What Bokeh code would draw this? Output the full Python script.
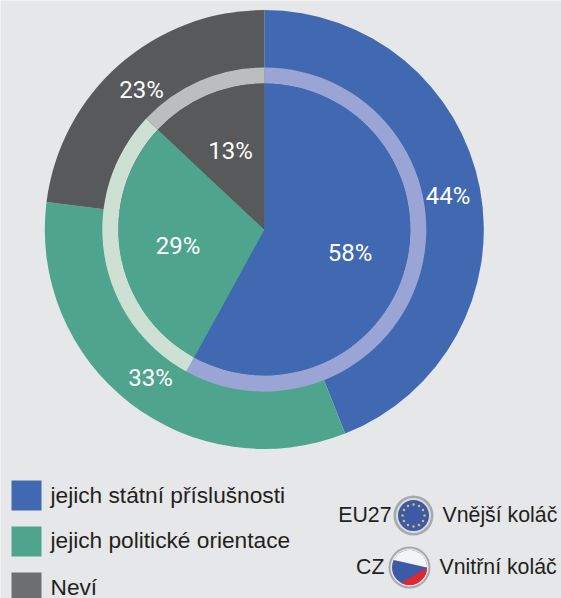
import numpy as np
from bokeh.plotting import figure
from bokeh.models import Range1d
from bokeh.core.properties import value
from bokeh.embed import file_html
from bokeh.resources import INLINE

categories = ["jejich státní příslušnosti", "jejich politické orientace", "Neví"]
outer_values = [44, 33, 23]   # EU27
inner_values = [58, 29, 13]   # CZ
colors = ["#4169b2", "#4fa48e", "#58595b"]
ring_colors = ["#9aa5d6", "#cde0d3", "#bcbdbf"]
legend_colors = ["#4169b2", "#4fa48e", "#6d6e70"]
BG = "#e6e7e8"
W, H = 561, 598

def Y(py):
    return H - py

p = figure(width=W, height=H, output_backend="svg", toolbar_location=None,
           x_range=Range1d(0, W), y_range=Range1d(0, H),
           background_fill_color=BG, border_fill_color=BG, outline_line_color=None,
           min_border=0)
p.axis.visible = False
p.grid.visible = False

CX, CY = 263.8, Y(229)
R_OUT, R_RING, R_IN = 219.5, 162, 146

def angles(vals):
    c = np.cumsum([0] + list(vals)) / sum(vals)
    a = np.pi / 2 - 2 * np.pi * c
    return a[1:], a[:-1]   # start, end, running clockwise from the top

s, e = angles(outer_values)
p.wedge(x=CX, y=CY, radius=R_OUT, start_angle=s, end_angle=e, fill_color=colors, line_color=None)
s, e = angles(inner_values)
p.annular_wedge(x=CX, y=CY, inner_radius=R_IN, outer_radius=R_RING, start_angle=s, end_angle=e,
                fill_color=ring_colors, line_color=None)
p.wedge(x=CX, y=CY, radius=R_IN, start_angle=s, end_angle=e, fill_color=colors, line_color=None)

LBL = value("Roboto")
lx = [447.5, 349.5, 150, 177.5, 141, 230]
ly = [195, 252.5, 377, 245, 89, 150]
lt = [f"{outer_values[0]}%", f"{inner_values[0]}%", f"{outer_values[1]}%",
      f"{inner_values[1]}%", f"{outer_values[2]}%", f"{inner_values[2]}%"]
p.text(x=lx, y=[Y(v) for v in ly], text=lt, text_color="white", text_font=LBL,
       text_font_size="24px", text_align="center", text_baseline="middle")

# legend
FONT = value("Liberation Sans")
sq_y = [495, 541, 587]
for yy, c in zip(sq_y, legend_colors):
    p.rect(x=26, y=Y(yy), width=30, height=30, fill_color=c, line_color=None)
p.text(x=[50] * 3, y=[Y(494), Y(539), Y(586)], text=categories, text_color="#231f20", text_font=FONT,
       text_font_size="22.7px", text_align="left", text_baseline="middle")
p.text(x=[391, 384], y=[Y(514), Y(566)], text=["EU27", "CZ"], text_color="#231f20", text_font=FONT,
       text_font_size="21.3px", text_align="right", text_baseline="middle")
p.text(x=[442, 439], y=[Y(514), Y(566)], text=["Vnější koláč", "Vnitřní koláč"], text_color="#231f20",
       text_font=FONT, text_font_size="21.3px", text_align="left", text_baseline="middle")

# EU badge
ex, ey = 413, Y(515)
p.circle(x=ex, y=ey, radius=20, fill_color="#a7a9ac", line_color=None)
p.circle(x=ex, y=ey, radius=17.5, fill_color="#d9dadc", line_color=None)
p.circle(x=ex, y=ey, radius=15.5, fill_color="#3c5aa8", line_color=None)
star_a = np.arange(12) * np.pi / 6
p.scatter(x=ex + 11 * np.cos(star_a), y=ey + 11 * np.sin(star_a), size=2.5, marker="circle",
          fill_color="#d9c24a", line_color=None)

# CZ badge
cx, cy = 409, Y(567)
def seg(a0, a1, r=17.5):
    t = np.radians(np.linspace(a0, a1, 40))
    return cx + r * np.cos(t), cy + r * np.sin(t)
p.circle(x=cx, y=cy, radius=21, fill_color="#a7a9ac", line_color=None)
p.circle(x=cx, y=cy, radius=19, fill_color="#e4e5e6", line_color=None)
p.circle(x=cx, y=cy, radius=17.5, fill_color="#3d5aa8", line_color=None)
wx, wy = seg(0, 155)
p.patch(wx, wy, fill_color="#f4f4f6", line_color=None)
rx, ry = seg(0, -118)
p.patch(rx, ry, fill_color="#e0262e", line_color=None)

open("out.html", "w").write(file_html(p, INLINE))
